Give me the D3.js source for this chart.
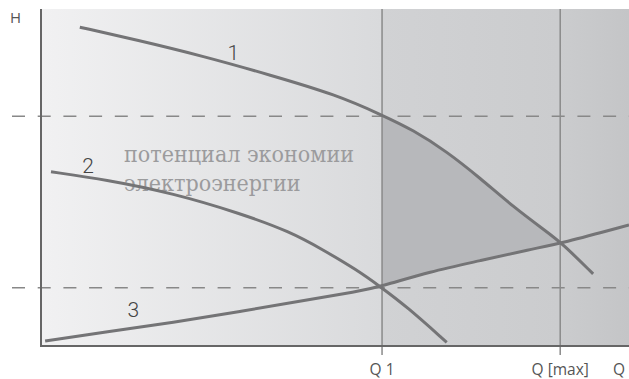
<!DOCTYPE html>
<html>
<head>
<meta charset="utf-8">
<script src="https://cdn.jsdelivr.net/npm/d3@7"></script>
<style>
  body { margin: 0; background: #fff; }
  svg { display: block; }
</style>
</head>
<body>
<div id="chart"></div>
<script>
const width = 629;
const height = 379;
const margin = ({top: 9, right: 0, bottom: 33, left: 41});

// curves, in the chart's own units (Q along x, H along y)
const curve1 = [[0.66, 9.46], [1.63, 9.08], [2.76, 8.60], [3.90, 8.04], [5.03, 7.45], [5.79, 6.86],
    [6.33, 6.41], [6.90, 5.77], [7.47, 4.98], [8.03, 4.13], [8.60, 3.39], [8.86, 3.05], [9.39, 2.14]];
const curve2 = [[0.17, 5.17], [1.12, 4.93], [2.25, 4.53], [3.38, 3.94], [4.24, 3.39], [4.80, 2.85],
    [5.37, 2.26], [5.77, 1.76], [6.22, 1.17], [6.90, 0.11]];
const curve3 = [[0.07, 0.15], [1.12, 0.42], [2.25, 0.70], [3.38, 1.02], [4.52, 1.37], [5.37, 1.61],
    [5.77, 1.76], [6.62, 2.21], [7.47, 2.53], [8.32, 2.87], [8.86, 3.05], [10, 3.59]];

const qMarks = [5.80, 8.83];
const qLabels = ["Q 1", "Q [max]"];
const hLevels = [6.82, 1.73];
const curveLabels = [
    {name: "1", q: 3.27, h: 8.49},
    {name: "2", q: 0.8, h: 5.13},
    {name: "3", q: 1.57, h: 0.86}
];
const noteLines = ["потенциал экономии", "электроэнергии"];

let svg = d3.select("#chart")
    .append("svg")
    .attr("width", width)
    .attr("height", height);

let xScale = d3.scaleLinear()
    .domain([0, 10])
    .range([margin.left, width - margin.right]);

let yScale = d3.scaleLinear()
    .domain([0, 10])
    .range([height - margin.bottom, margin.top]);

let defs = svg.append("defs");
let grad = defs.append("linearGradient")
    .attr("id", "bg")
    .attr("x1", "0%").attr("x2", "100%")
    .attr("y1", "0%").attr("y2", "0%");
[["0%", "#f1f1f2"], ["58%", "#d9dadc"], ["58%", "#d1d2d4"], ["88%", "#cbccce"], ["100%", "#c4c5c7"]]
    .forEach(function (s) {
        grad.append("stop").attr("offset", s[0]).attr("stop-color", s[1]);
    });

defs.append("clipPath")
    .attr("id", "saving")
    .append("rect")
    .attr("x", xScale(qMarks[0]))
    .attr("y", 0)
    .attr("width", xScale(qMarks[1]) - xScale(qMarks[0]))
    .attr("height", height);

svg.append("rect")
    .attr("x", xScale(0))
    .attr("y", yScale(10))
    .attr("width", xScale(10) - xScale(0))
    .attr("height", yScale(0) - yScale(10))
    .attr("fill", "url(#bg)");

let line = d3.line()
    .x(d => xScale(d[0]))
    .y(d => yScale(d[1]))
    .curve(d3.curveBasis);

// saving area between curve 1 and curve 3, clipped to Q1..Qmax
svg.append("path")
    .attr("d", line(curve1) + "L" + line(curve3.slice().reverse()).slice(1) + "Z")
    .attr("clip-path", "url(#saving)")
    .attr("fill", "#b7b8bb");

// note text: a tall serif, squeezed to the width it takes in the picture
let note = svg.selectAll(".note")
    .data(noteLines)
    .enter()
    .append("text")
    .attr("class", "note")
    .attr("x", 124)
    .attr("y", (d, i) => 162 + i * 29)
    .attr("font-family", "'DejaVu Serif', serif")
    .attr("font-size", 22)
    .attr("fill", "#9b9b9d")
    .text(d => d);
let k = 230 / note.node().getComputedTextLength();
note.each(function () {
    d3.select(this)
        .attr("lengthAdjust", "spacingAndGlyphs")
        .attr("textLength", this.getComputedTextLength() * k);
});

// dashed levels
svg.selectAll(".level")
    .data(hLevels)
    .enter()
    .append("line")
    .attr("class", "level")
    .attr("x1", 12)
    .attr("x2", width)
    .attr("y1", d => yScale(d))
    .attr("y2", d => yScale(d))
    .attr("stroke", "#888")
    .attr("stroke-width", 1.5)
    .attr("stroke-dasharray", "13,12.7");

// Q verticals
svg.selectAll(".qline")
    .data(qMarks)
    .enter()
    .append("line")
    .attr("class", "qline")
    .attr("x1", d => xScale(d))
    .attr("x2", d => xScale(d))
    .attr("y1", yScale(10))
    .attr("y2", yScale(0) + 9)
    .attr("stroke", "#8a8a8a")
    .attr("stroke-width", 1.5);

// curves
svg.selectAll(".curve")
    .data([curve1, curve2, curve3])
    .enter()
    .append("path")
    .attr("class", "curve")
    .attr("d", line)
    .attr("fill", "none")
    .attr("stroke", "#747476")
    .attr("stroke-width", 3);

// axes
svg.append("line")
    .attr("x1", xScale(0)).attr("x2", xScale(0))
    .attr("y1", yScale(10)).attr("y2", yScale(0) + 1)
    .attr("stroke", "#666").attr("stroke-width", 2);
svg.append("line")
    .attr("x1", xScale(0)).attr("x2", xScale(10))
    .attr("y1", yScale(0)).attr("y2", yScale(0))
    .attr("stroke", "#666").attr("stroke-width", 2);

// labels
svg.selectAll(".clabel")
    .data(curveLabels)
    .enter()
    .append("text")
    .attr("class", "clabel")
    .attr("x", d => xScale(d.q))
    .attr("y", d => yScale(d.h))
    .attr("text-anchor", "middle")
    .attr("font-family", "Roboto, sans-serif")
    .attr("font-weight", 300)
    .attr("font-size", 21)
    .attr("fill", "#444")
    .text(d => d.name);

svg.selectAll(".qlabel")
    .data(qLabels)
    .enter()
    .append("text")
    .attr("class", "qlabel")
    .attr("x", (d, i) => xScale(qMarks[i]))
    .attr("y", 375)
    .attr("text-anchor", "middle")
    .attr("font-family", "'Open Sans', sans-serif")
    .attr("font-size", 15.5)
    .attr("fill", "#555")
    .text(d => d);

svg.append("text")
    .attr("x", 619)
    .attr("y", 375)
    .attr("text-anchor", "middle")
    .attr("font-family", "'Open Sans', sans-serif")
    .attr("font-size", 15.5)
    .attr("fill", "#555")
    .text("Q");

svg.append("text")
    .attr("x", 15.5)
    .attr("y", 23)
    .attr("text-anchor", "middle")
    .attr("font-family", "'Open Sans', sans-serif")
    .attr("font-size", 15)
    .attr("fill", "#555")
    .text("H");
</script>
</body>
</html>
